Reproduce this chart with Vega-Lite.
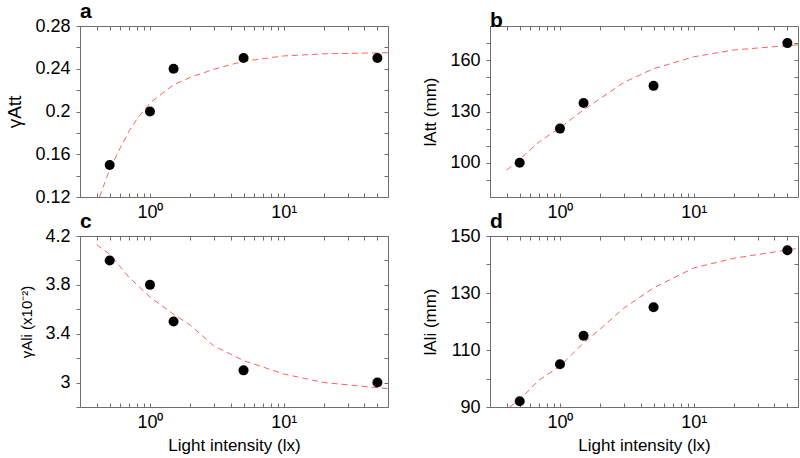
{
  "$schema": "https://vega.github.io/schema/vega-lite/v6.json",
  "padding": {"left": 5, "top": 0, "right": 2, "bottom": 2},
  "background": "white",
  "config": {
    "font": "Liberation Sans",
    "view": {"stroke": "#6e6e6e", "strokeWidth": 1},
    "axis": {"grid": false, "domain": false, "tickColor": "#6e6e6e", "labelFont": "Liberation Sans", "titleFont": "Liberation Sans", "labelColor": "black", "titleColor": "black", "labelFontSize": 18, "titleFontSize": 18, "titleFontWeight": "normal", "minExtent": 0},
    "axisTop": {"encode": {"ticks": {"update": {"y2": {"signal": "(datum.value == 1 || datum.value == 10) ? 7 : 4"}}}}},
    "axisBottom": {"encode": {"ticks": {"update": {"y2": {"signal": "(datum.value == 1 || datum.value == 10) ? -7 : -4"}}}}},
    "title": {"font": "Liberation Sans", "fontSize": 21, "fontWeight": "bold", "anchor": "start", "frame": "group", "offset": -5, "color": "black"}
  },
  "datasets": {
    "pts": [
      {"p": "a", "x": 0.5, "y": 0.15}, {"p": "a", "x": 1, "y": 0.2}, {"p": "a", "x": 1.5, "y": 0.24}, {"p": "a", "x": 5, "y": 0.25}, {"p": "a", "x": 50, "y": 0.25},
      {"p": "b", "x": 0.5, "y": 100}, {"p": "b", "x": 1, "y": 120}, {"p": "b", "x": 1.5, "y": 135}, {"p": "b", "x": 5, "y": 145}, {"p": "b", "x": 50, "y": 170},
      {"p": "c", "x": 0.5, "y": 4.0}, {"p": "c", "x": 1, "y": 3.8}, {"p": "c", "x": 1.5, "y": 3.5}, {"p": "c", "x": 5, "y": 3.1}, {"p": "c", "x": 50, "y": 3.0},
      {"p": "d", "x": 0.5, "y": 92}, {"p": "d", "x": 1, "y": 105}, {"p": "d", "x": 1.5, "y": 115}, {"p": "d", "x": 5, "y": 125}, {"p": "d", "x": 50, "y": 145}
    ],
    "fit": [
      {"p": "a", "x": 0.42, "y": 0.12}, {"p": "a", "x": 0.5, "y": 0.146}, {"p": "a", "x": 0.6, "y": 0.166}, {"p": "a", "x": 0.7, "y": 0.182}, {"p": "a", "x": 0.8, "y": 0.193}, {"p": "a", "x": 1, "y": 0.208}, {"p": "a", "x": 1.5, "y": 0.225}, {"p": "a", "x": 2, "y": 0.232}, {"p": "a", "x": 3, "y": 0.2395}, {"p": "a", "x": 5, "y": 0.247}, {"p": "a", "x": 10, "y": 0.252}, {"p": "a", "x": 20, "y": 0.254}, {"p": "a", "x": 60, "y": 0.255},
      {"p": "b", "x": 0.4, "y": 95.7}, {"p": "b", "x": 0.5, "y": 102}, {"p": "b", "x": 0.7, "y": 112.3}, {"p": "b", "x": 1, "y": 120.5}, {"p": "b", "x": 1.5, "y": 131}, {"p": "b", "x": 2, "y": 137.6}, {"p": "b", "x": 3, "y": 147}, {"p": "b", "x": 5, "y": 155}, {"p": "b", "x": 10, "y": 162}, {"p": "b", "x": 20, "y": 166}, {"p": "b", "x": 60, "y": 169},
      {"p": "c", "x": 0.4, "y": 4.13}, {"p": "c", "x": 0.5, "y": 4.05}, {"p": "c", "x": 0.7, "y": 3.86}, {"p": "c", "x": 1, "y": 3.7}, {"p": "c", "x": 1.5, "y": 3.56}, {"p": "c", "x": 2, "y": 3.47}, {"p": "c", "x": 3, "y": 3.3}, {"p": "c", "x": 5, "y": 3.18}, {"p": "c", "x": 10, "y": 3.07}, {"p": "c", "x": 20, "y": 3.0}, {"p": "c", "x": 60, "y": 2.95},
      {"p": "d", "x": 0.42, "y": 90}, {"p": "d", "x": 0.5, "y": 92.6}, {"p": "d", "x": 0.7, "y": 99.5}, {"p": "d", "x": 1, "y": 104.3}, {"p": "d", "x": 1.5, "y": 112.5}, {"p": "d", "x": 2, "y": 117.4}, {"p": "d", "x": 3, "y": 124.7}, {"p": "d", "x": 5, "y": 131.8}, {"p": "d", "x": 10, "y": 138.8}, {"p": "d", "x": 20, "y": 142.2}, {"p": "d", "x": 60, "y": 145.7}
    ]
  },
  "columns": 2,
  "spacing": {"row": 39, "column": 102},
  "bounds": "flush",
  "concat": [
    {
      "title": "a", "width": 308, "height": 171,
      "layer": [
        {"data": {"name": "fit"}, "transform": [{"filter": "datum.p == 'a'"}],
         "mark": {"type": "line", "color": "#ff5f5f", "strokeWidth": 1, "strokeDash": [6, 4], "clip": true},
         "encoding": {
           "x": {"field": "x", "type": "quantitative", "scale": {"type": "log", "domain": [0.3, 60], "nice": false}, "axis": {"orient": "top", "values": [0.3,0.4,0.5,0.6,0.7,0.8,0.9,1,2,3,4,5,6,7,8,9,10,20,30,40,50,60], "labels": false, "tickSize": -4, "title": null}},
           "y": {"field": "y", "type": "quantitative", "scale": {"domain": [0.12, 0.28], "nice": false, "zero": false}, "axis": {"orient": "right", "values": [0.12,0.14,0.16,0.18,0.2,0.22,0.24,0.26,0.28], "labels": false, "tickSize": -4, "title": null}}
         }},
        {"data": {"name": "pts"}, "transform": [{"filter": "datum.p == 'a'"}],
         "mark": {"type": "circle", "size": 100, "color": "black", "opacity": 1},
         "encoding": {
           "x": {"field": "x", "type": "quantitative", "scale": {"type": "log", "domain": [0.3, 60], "nice": false}, "axis": {"orient": "bottom", "values": [0.3,0.4,0.5,0.6,0.7,0.8,0.9,1,2,3,4,5,6,7,8,9,10,20,30,40,50,60], "labelExpr": "datum.value == 1 ? '10⁰' : datum.value == 10 ? '10¹' : ''", "tickSize": -4, "labelPadding": 10, "title": null}},
           "y": {"field": "y", "type": "quantitative", "scale": {"domain": [0.12, 0.28], "nice": false, "zero": false}, "axis": {"orient": "left", "values": [0.12,0.14,0.16,0.18,0.2,0.22,0.24,0.26,0.28], "format": "~f", "labelExpr": "indexof([0.12,0.16,0.2,0.24,0.28], datum.value) >= 0 ? datum.label : ''", "tickSize": 4, "labelPadding": 6, "title": "γAtt", "titleFontSize": 19, "titlePadding": 10,
             "encode": {"ticks": {"update": {"x2": {"signal": "indexof([0.12,0.16,0.2,0.24,0.28], datum.value) >= 0 ? -4 : 3"}}}}}}
         }}
      ],
      "resolve": {"axis": {"x": "independent", "y": "independent"}}
    },
    {
      "title": "b", "width": 308, "height": 171,
      "layer": [
        {"data": {"name": "fit"}, "transform": [{"filter": "datum.p == 'b'"}],
         "mark": {"type": "line", "color": "#ff5f5f", "strokeWidth": 1, "strokeDash": [6, 4], "clip": true},
         "encoding": {
           "x": {"field": "x", "type": "quantitative", "scale": {"type": "log", "domain": [0.3, 60], "nice": false}, "axis": {"orient": "top", "values": [0.3,0.4,0.5,0.6,0.7,0.8,0.9,1,2,3,4,5,6,7,8,9,10,20,30,40,50,60], "labels": false, "tickSize": -4, "title": null}},
           "y": {"field": "y", "type": "quantitative", "scale": {"domain": [80, 180], "nice": false, "zero": false}, "axis": {"orient": "right", "values": [90,100,110,120,130,140,150,160,170], "labels": false, "tickSize": -4, "title": null}}
         }},
        {"data": {"name": "pts"}, "transform": [{"filter": "datum.p == 'b'"}],
         "mark": {"type": "circle", "size": 100, "color": "black", "opacity": 1},
         "encoding": {
           "x": {"field": "x", "type": "quantitative", "scale": {"type": "log", "domain": [0.3, 60], "nice": false}, "axis": {"orient": "bottom", "values": [0.3,0.4,0.5,0.6,0.7,0.8,0.9,1,2,3,4,5,6,7,8,9,10,20,30,40,50,60], "labelExpr": "datum.value == 1 ? '10⁰' : datum.value == 10 ? '10¹' : ''", "tickSize": -4, "labelPadding": 10, "title": null}},
           "y": {"field": "y", "type": "quantitative", "scale": {"domain": [80, 180], "nice": false, "zero": false}, "axis": {"orient": "left", "values": [90,100,110,120,130,140,150,160,170], "format": "~f", "labelExpr": "indexof([100,130,160], datum.value) >= 0 ? datum.label : ''", "tickSize": 4, "labelPadding": 6, "title": "lAtt (mm)", "titleFontSize": 17, "titlePadding": 10,
             "encode": {"ticks": {"update": {"x2": {"signal": "indexof([100,130,160], datum.value) >= 0 ? -4 : 3"}}}}}}
         }}
      ],
      "resolve": {"axis": {"x": "independent", "y": "independent"}}
    },
    {
      "title": "c", "width": 308, "height": 171,
      "layer": [
        {"data": {"name": "fit"}, "transform": [{"filter": "datum.p == 'c'"}],
         "mark": {"type": "line", "color": "#ff5f5f", "strokeWidth": 1, "strokeDash": [6, 4], "clip": true},
         "encoding": {
           "x": {"field": "x", "type": "quantitative", "scale": {"type": "log", "domain": [0.3, 60], "nice": false}, "axis": {"orient": "top", "values": [0.3,0.4,0.5,0.6,0.7,0.8,0.9,1,2,3,4,5,6,7,8,9,10,20,30,40,50,60], "labels": false, "tickSize": -4, "title": null}},
           "y": {"field": "y", "type": "quantitative", "scale": {"domain": [2.8, 4.2], "nice": false, "zero": false}, "axis": {"orient": "right", "values": [2.8,3,3.2,3.4,3.6,3.8,4,4.2], "labels": false, "tickSize": -4, "title": null}}
         }},
        {"data": {"name": "pts"}, "transform": [{"filter": "datum.p == 'c'"}],
         "mark": {"type": "circle", "size": 100, "color": "black", "opacity": 1},
         "encoding": {
           "x": {"field": "x", "type": "quantitative", "scale": {"type": "log", "domain": [0.3, 60], "nice": false}, "axis": {"orient": "bottom", "values": [0.3,0.4,0.5,0.6,0.7,0.8,0.9,1,2,3,4,5,6,7,8,9,10,20,30,40,50,60], "labelExpr": "datum.value == 1 ? '10⁰' : datum.value == 10 ? '10¹' : ''", "tickSize": -4, "labelPadding": 10, "title": "Light intensity (lx)", "titleFontSize": 17, "titlePadding": 6}},
           "y": {"field": "y", "type": "quantitative", "scale": {"domain": [2.8, 4.2], "nice": false, "zero": false}, "axis": {"orient": "left", "values": [2.8,3,3.2,3.4,3.6,3.8,4,4.2], "format": "~f", "labelExpr": "indexof([3,3.4,3.8,4.2], datum.value) >= 0 ? datum.label : ''", "tickSize": 4, "labelPadding": 6, "title": "γAli (x10⁻²)", "titleFontSize": 15, "titlePadding": 10,
             "encode": {"ticks": {"update": {"x2": {"signal": "indexof([3,3.4,3.8,4.2], datum.value) >= 0 ? -4 : 3"}}}}}}
         }}
      ],
      "resolve": {"axis": {"x": "independent", "y": "independent"}}
    },
    {
      "title": "d", "width": 308, "height": 171,
      "layer": [
        {"data": {"name": "fit"}, "transform": [{"filter": "datum.p == 'd'"}],
         "mark": {"type": "line", "color": "#ff5f5f", "strokeWidth": 1, "strokeDash": [6, 4], "clip": true},
         "encoding": {
           "x": {"field": "x", "type": "quantitative", "scale": {"type": "log", "domain": [0.3, 60], "nice": false}, "axis": {"orient": "top", "values": [0.3,0.4,0.5,0.6,0.7,0.8,0.9,1,2,3,4,5,6,7,8,9,10,20,30,40,50,60], "labels": false, "tickSize": -4, "title": null}},
           "y": {"field": "y", "type": "quantitative", "scale": {"domain": [90, 150], "nice": false, "zero": false}, "axis": {"orient": "right", "values": [90,100,110,120,130,140,150], "labels": false, "tickSize": -4, "title": null}}
         }},
        {"data": {"name": "pts"}, "transform": [{"filter": "datum.p == 'd'"}],
         "mark": {"type": "circle", "size": 100, "color": "black", "opacity": 1},
         "encoding": {
           "x": {"field": "x", "type": "quantitative", "scale": {"type": "log", "domain": [0.3, 60], "nice": false}, "axis": {"orient": "bottom", "values": [0.3,0.4,0.5,0.6,0.7,0.8,0.9,1,2,3,4,5,6,7,8,9,10,20,30,40,50,60], "labelExpr": "datum.value == 1 ? '10⁰' : datum.value == 10 ? '10¹' : ''", "tickSize": -4, "labelPadding": 10, "title": "Light intensity (lx)", "titleFontSize": 17, "titlePadding": 6}},
           "y": {"field": "y", "type": "quantitative", "scale": {"domain": [90, 150], "nice": false, "zero": false}, "axis": {"orient": "left", "values": [90,100,110,120,130,140,150], "format": "~f", "labelExpr": "indexof([90,110,130,150], datum.value) >= 0 ? datum.label : ''", "tickSize": 4, "labelPadding": 6, "title": "lAli (mm)", "titleFontSize": 17, "titlePadding": 10,
             "encode": {"ticks": {"update": {"x2": {"signal": "indexof([90,110,130,150], datum.value) >= 0 ? -4 : 3"}}}}}}
         }}
      ],
      "resolve": {"axis": {"x": "independent", "y": "independent"}}
    }
  ]
}
